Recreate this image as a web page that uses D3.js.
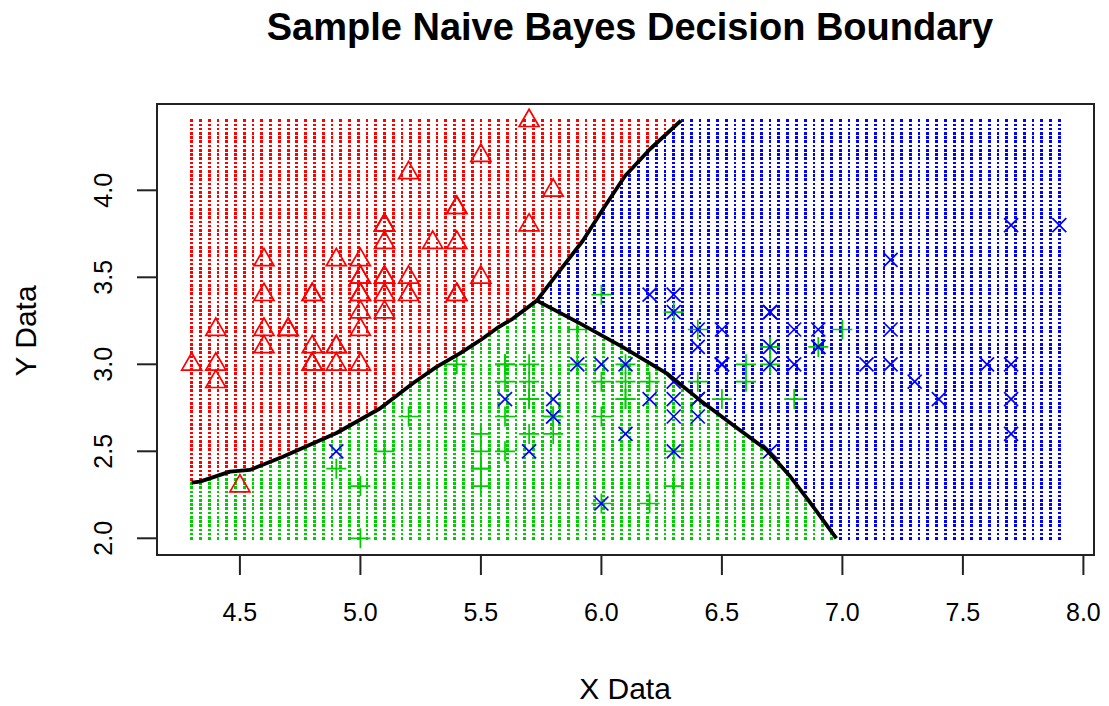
<!DOCTYPE html>
<html>
<head>
<meta charset="utf-8">
<script src="https://cdn.jsdelivr.net/npm/d3@7"></script>
<style>
  body { margin: 0; background: #fff; }
  text { font-family: "Liberation Sans", Arial, Helvetica, sans-serif; fill: #000; }
</style>
</head>
<body>
<div id="chart"></div>
<script>
// iris: sepal length / sepal width per species
var setosa = [
    [5.1,3.5],[4.9,3.0],[4.7,3.2],[4.6,3.1],[5.0,3.6],[5.4,3.9],[4.6,3.4],[5.0,3.4],[4.4,2.9],[4.9,3.1],
    [5.4,3.7],[4.8,3.4],[4.8,3.0],[4.3,3.0],[5.8,4.0],[5.7,4.4],[5.4,3.9],[5.1,3.5],[5.7,3.8],[5.1,3.8],
    [5.4,3.4],[5.1,3.7],[4.6,3.6],[5.1,3.3],[4.8,3.4],[5.0,3.0],[5.0,3.4],[5.2,3.5],[5.2,3.4],[4.7,3.2],
    [4.8,3.1],[5.4,3.4],[5.2,4.1],[5.5,4.2],[4.9,3.1],[5.0,3.2],[5.5,3.5],[4.9,3.6],[4.4,3.0],[5.1,3.4],
    [5.0,3.5],[4.5,2.3],[4.4,3.2],[5.0,3.5],[5.1,3.8],[4.8,3.0],[5.1,3.8],[4.6,3.2],[5.3,3.7],[5.0,3.3]
];
var versicolor = [
    [7.0,3.2],[6.4,3.2],[6.9,3.1],[5.5,2.3],[6.5,2.8],[5.7,2.8],[6.3,3.3],[4.9,2.4],[6.6,2.9],[5.2,2.7],
    [5.0,2.0],[5.9,3.0],[6.0,2.2],[6.1,2.9],[5.6,2.9],[6.7,3.1],[5.6,3.0],[5.8,2.7],[6.2,2.2],[5.6,2.5],
    [5.9,3.2],[6.1,2.8],[6.3,2.5],[6.1,2.8],[6.4,2.9],[6.6,3.0],[6.8,2.8],[6.7,3.0],[6.0,2.9],[5.7,2.6],
    [5.5,2.4],[5.5,2.4],[5.8,2.7],[6.0,2.7],[5.4,3.0],[6.0,3.4],[6.7,3.1],[6.3,2.3],[5.6,3.0],[5.5,2.5],
    [5.5,2.6],[6.1,3.0],[5.8,2.6],[5.0,2.3],[5.6,2.7],[5.7,3.0],[5.7,2.9],[6.2,2.9],[5.1,2.5],[5.7,2.8]
];
var virginica = [
    [6.3,3.3],[5.8,2.7],[7.1,3.0],[6.3,2.9],[6.5,3.0],[7.6,3.0],[4.9,2.5],[7.3,2.9],[6.7,2.5],[7.2,3.6],
    [6.5,3.2],[6.4,2.7],[6.8,3.0],[5.7,2.5],[5.8,2.8],[6.4,3.2],[6.5,3.0],[7.7,3.8],[7.7,2.6],[6.0,2.2],
    [6.9,3.2],[5.6,2.8],[7.7,2.8],[6.3,2.7],[6.7,3.3],[7.2,3.2],[6.2,2.8],[6.1,3.0],[6.4,2.8],[7.2,3.0],
    [7.4,2.8],[7.9,3.8],[6.4,2.8],[6.3,2.8],[6.1,2.6],[7.7,3.0],[6.3,3.4],[6.4,3.1],[6.0,3.0],[6.9,3.1],
    [6.7,3.1],[6.9,3.1],[5.8,2.7],[6.8,3.2],[6.7,3.3],[6.7,3.0],[6.3,2.5],[6.5,3.0],[6.2,3.4],[5.9,3.0]
];

// decision boundaries (data units)
var boundarySetVer = [
    [4.30,2.32],[4.334,2.326],[4.459,2.383],[4.541,2.393],[4.678,2.469],[4.901,2.605],[5.081,2.746],
    [5.218,2.891],[5.316,2.985],[5.413,3.063],[5.496,3.137],[5.565,3.206],[5.633,3.263],[5.732,3.366]
];
var boundarySetVir = [
    [5.732,3.366],[5.80,3.49],[5.923,3.710],[6.015,3.910],[6.098,4.082],[6.201,4.236],[6.33,4.40]
];
var boundaryVerVir = [
    [5.732,3.366],[5.911,3.235],[6.089,3.099],[6.271,2.948],[6.409,2.794],[6.546,2.651],
    [6.686,2.508],[6.784,2.355],[6.867,2.204],[6.975,2.0]
];

// prediction grid extent
var gridXRange = [4.3, 7.9];
var gridYRange = [2.0, 4.4];
var gridN = 100;

var xTicks = [4.5, 5.0, 5.5, 6.0, 6.5, 7.0, 7.5, 8.0];
var yTicks = [2.0, 2.5, 3.0, 3.5, 4.0];

var colors = { setosa: '#ff0000', versicolor: '#00cd00', virginica: '#0000ff' };

function buildChart(containerId) {
    var width = 1109;
    var height = 706;

    var plot = { left: 157, right: 1094, top: 104, bottom: 555 };

    var svg = d3.select(containerId)
        .append('svg')
        .attr('width', width)
        .attr('height', height);

    // R style 4% extension of the grid range
    var x = d3.scaleLinear().domain([4.156, 8.044]).range([plot.left, plot.right]);
    var y = d3.scaleLinear().domain([1.904, 4.496]).range([plot.bottom, plot.top]);

    // region polygons in data units
    var redPoly = [[4.2, 4.5], [4.2, boundarySetVer[0][1]]]
        .concat(boundarySetVer, boundarySetVir.slice(1), [[6.40, 4.5]]);
    var greenPoly = [[4.2, 1.9], [4.2, boundarySetVer[0][1]]]
        .concat(boundarySetVer, boundaryVerVir.slice(1), [[7.0, 1.9]]);

    var grid = [];
    for (var i = 0; i < gridN; i++) {
        for (var j = 0; j < gridN; j++) {
            var gx = gridXRange[0] + i * (gridXRange[1] - gridXRange[0]) / (gridN - 1);
            var gy = gridYRange[0] + j * (gridYRange[1] - gridYRange[0]) / (gridN - 1);
            var cls = 'virginica';
            if (d3.polygonContains(redPoly, [gx, gy])) cls = 'setosa';
            else if (d3.polygonContains(greenPoly, [gx, gy])) cls = 'versicolor';
            grid.push({ x: gx, y: gy, cls: cls });
        }
    }

    // grid of predicted classes
    svg.append('g')
        .attr('shape-rendering', 'crispEdges')
        .selectAll('rect')
        .data(grid)
        .enter()
        .append('rect')
        .attr('x', d => x(d.x) - 1.4)
        .attr('y', d => y(d.y) - 1.3)
        .attr('width', 2.8)
        .attr('height', 2.6)
        .style('fill', d => colors[d.cls]);

    // observations
    var pts = svg.append('g')
        .style('fill', 'none')
        .style('stroke-width', 1.7);

    pts.selectAll('path.tri')
        .data(setosa)
        .enter()
        .append('path')
        .attr('class', 'tri')
        .attr('d', function (d) {
            var cx = x(d[0]), cy = y(d[1]);
            return 'M' + cx + ',' + (cy - 11.5) + 'L' + (cx + 10) + ',' + (cy + 5.8) +
                'L' + (cx - 10) + ',' + (cy + 5.8) + 'Z';
        })
        .style('stroke', colors.setosa);

    pts.selectAll('path.plus')
        .data(versicolor)
        .enter()
        .append('path')
        .attr('class', 'plus')
        .attr('d', function (d) {
            var cx = x(d[0]), cy = y(d[1]), r = 10;
            return 'M' + (cx - r) + ',' + cy + 'H' + (cx + r) + 'M' + cx + ',' + (cy - r) + 'V' + (cy + r);
        })
        .style('stroke', colors.versicolor);

    pts.selectAll('path.cross')
        .data(virginica)
        .enter()
        .append('path')
        .attr('class', 'cross')
        .attr('d', function (d) {
            var cx = x(d[0]), cy = y(d[1]), r = 7;
            return 'M' + (cx - r) + ',' + (cy - r) + 'L' + (cx + r) + ',' + (cy + r) +
                'M' + (cx - r) + ',' + (cy + r) + 'L' + (cx + r) + ',' + (cy - r);
        })
        .style('stroke', colors.virginica);

    // boundaries
    var line = d3.line().x(d => x(d[0])).y(d => y(d[1]));
    [boundarySetVer, boundarySetVir, boundaryVerVir].forEach(function (b) {
        svg.append('path')
            .attr('d', line(b))
            .style('fill', 'none')
            .style('stroke', '#000')
            .style('stroke-width', 3.8)
            .style('stroke-linejoin', 'round');
    });

    // box
    svg.append('rect')
        .attr('x', plot.left)
        .attr('y', plot.top)
        .attr('width', plot.right - plot.left)
        .attr('height', plot.bottom - plot.top)
        .style('fill', 'none')
        .style('stroke', '#222')
        .style('stroke-width', 2);

    // x axis
    var xAxis = svg.append('g').style('stroke', '#222').style('stroke-width', 2);
    xAxis.append('line')
        .attr('x1', x(xTicks[0])).attr('x2', x(xTicks[xTicks.length - 1]))
        .attr('y1', plot.bottom).attr('y2', plot.bottom);
    xAxis.selectAll('line.tick')
        .data(xTicks)
        .enter()
        .append('line')
        .attr('class', 'tick')
        .attr('x1', d => x(d)).attr('x2', d => x(d))
        .attr('y1', plot.bottom).attr('y2', plot.bottom + 20);
    svg.selectAll('text.xlab')
        .data(xTicks)
        .enter()
        .append('text')
        .attr('class', 'xlab')
        .attr('x', d => x(d))
        .attr('y', 621)
        .attr('text-anchor', 'middle')
        .style('font-size', '25px')
        .text(d3.format('.1f'));

    // y axis
    var yAxis = svg.append('g').style('stroke', '#222').style('stroke-width', 2);
    yAxis.append('line')
        .attr('x1', plot.left).attr('x2', plot.left)
        .attr('y1', y(yTicks[0])).attr('y2', y(yTicks[yTicks.length - 1]));
    yAxis.selectAll('line.tick')
        .data(yTicks)
        .enter()
        .append('line')
        .attr('class', 'tick')
        .attr('x1', plot.left - 20).attr('x2', plot.left)
        .attr('y1', d => y(d)).attr('y2', d => y(d));
    svg.selectAll('text.ylab')
        .data(yTicks)
        .enter()
        .append('text')
        .attr('class', 'ylab')
        .attr('transform', d => 'translate(112,' + y(d) + ') rotate(-90)')
        .attr('text-anchor', 'middle')
        .style('font-size', '25px')
        .text(d3.format('.1f'));

    // titles
    svg.append('text')
        .attr('x', 630)
        .attr('y', 40)
        .attr('text-anchor', 'middle')
        .style('font-size', '38px')
        .style('font-weight', 'bold')
        .text('Sample Naive Bayes Decision Boundary');

    svg.append('text')
        .attr('x', 625)
        .attr('y', 699)
        .attr('text-anchor', 'middle')
        .style('font-size', '30px')
        .text('X Data');

    svg.append('text')
        .attr('transform', 'translate(36,331) rotate(-90)')
        .attr('text-anchor', 'middle')
        .style('font-size', '30px')
        .text('Y Data');
}

buildChart('#chart');
</script>
</body>
</html>
